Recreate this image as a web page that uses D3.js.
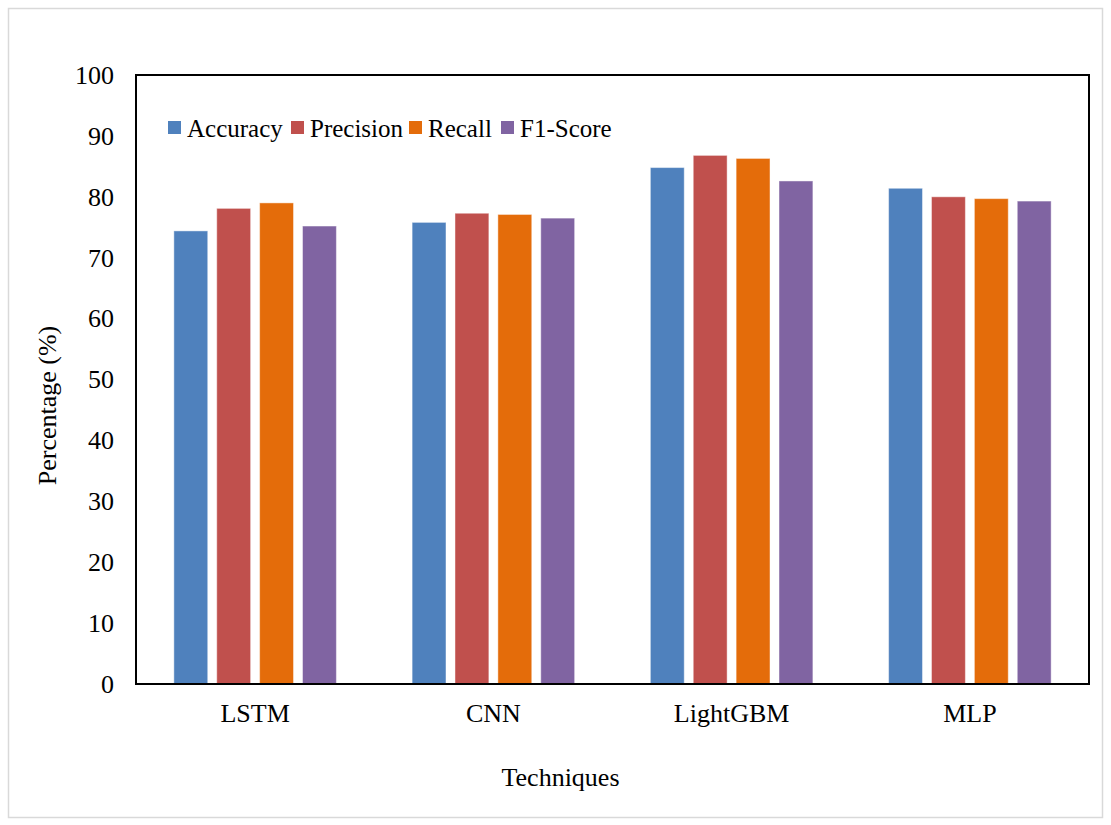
<!DOCTYPE html>
<html>
<head>
<meta charset="utf-8">
<script src="https://cdn.jsdelivr.net/npm/d3@7"></script>
<style>
  html, body { margin: 0; padding: 0; background: #fff; }
  svg { display: block; font-family: "Liberation Serif", "Times New Roman", serif; }
</style>
</head>
<body>
<svg id="chart" width="1111" height="825"></svg>
<script>
// Model comparison: accuracy, precision, recall and F1-score (%)
const techniques = ["LSTM", "CNN", "LightGBM", "MLP"];
const metrics = ["Accuracy", "Precision", "Recall", "F1-Score"];
const accuracy  = [74.4, 75.8, 84.8, 81.4];
const precision = [78.1, 77.3, 86.8, 80.0];
const recall    = [79.0, 77.1, 86.3, 79.7];
const f1Score   = [75.2, 76.5, 82.6, 79.3];
const yTicks = [0, 10, 20, 30, 40, 50, 60, 70, 80, 90, 100];
const colors = ["#4f81bd", "#c0504d", "#e46c0a", "#8064a2"];

const series = [accuracy, precision, recall, f1Score];

const svg = d3.select("#chart");
const W = 1111, H = 825;

// outer frame
svg.append("rect")
  .attr("x", 8.5).attr("y", 8.5)
  .attr("width", W - 17).attr("height", H - 16)
  .attr("fill", "#fff").attr("stroke", "#d9d9d9").attr("stroke-width", 1.5);

const plot = { left: 136, right: 1089, top: 75, bottom: 684 };

const x = d3.scaleBand()
  .domain(techniques)
  .range([plot.left, plot.right])
  .padding(0);

const inner = d3.scaleBand()
  .domain(metrics)
  .range([x.bandwidth() * 0.14, x.bandwidth() * 0.86])
  .paddingInner(0.21)
  .paddingOuter(0.105);

const y = d3.scaleLinear()
  .domain([0, 100])
  .range([plot.bottom, plot.top]);

// bars
const groups = svg.append("g").selectAll("g")
  .data(techniques)
  .join("g")
  .attr("transform", d => `translate(${x(d)},0)`);

groups.selectAll("rect")
  .data((d, i) => metrics.map((m, k) => ({ metric: m, value: series[k][i], color: colors[k] })))
  .join("rect")
  .attr("x", d => inner(d.metric))
  .attr("width", inner.bandwidth())
  .attr("y", d => y(d.value))
  .attr("height", d => y(0) - y(d.value))
  .attr("fill", d => d.color)
  .attr("stroke", "rgba(255,255,255,0.45)")
  .attr("stroke-width", 1);

// plot frame
svg.append("rect")
  .attr("x", plot.left).attr("y", plot.top)
  .attr("width", plot.right - plot.left).attr("height", plot.bottom - plot.top)
  .attr("fill", "none").attr("stroke", "#000").attr("stroke-width", 2);

// y axis labels
const yAxis = d3.axisLeft(y).tickValues(yTicks).tickSize(0).tickPadding(22);
svg.append("g")
  .attr("transform", `translate(${plot.left},0)`)
  .call(yAxis)
  .call(g => g.select(".domain").remove())
  .call(g => g.selectAll("text")
    .attr("font-family", "Liberation Serif, Times New Roman, serif")
    .attr("font-size", 26).attr("fill", "#000"));

// x axis labels
const xAxis = d3.axisBottom(x).tickSize(0).tickPadding(20);
svg.append("g")
  .attr("transform", `translate(0,${plot.bottom})`)
  .call(xAxis)
  .call(g => g.select(".domain").remove())
  .call(g => g.selectAll("text")
    .attr("font-family", "Liberation Serif, Times New Roman, serif")
    .attr("font-size", 26).attr("fill", "#000"));

// axis titles
svg.append("text")
  .attr("x", (plot.left + plot.right) / 2 - 52).attr("y", 786)
  .attr("text-anchor", "middle")
  .attr("font-size", 26).attr("fill", "#000")
  .text("Techniques");

svg.append("text")
  .attr("transform", `translate(56,${(plot.top + plot.bottom) / 2 + 26}) rotate(-90)`)
  .attr("text-anchor", "middle")
  .attr("font-size", 26).attr("fill", "#000")
  .text("Percentage (%)");

// legend
const legendX = [168, 291, 409, 501];
const legend = svg.append("g").selectAll("g")
  .data(metrics)
  .join("g")
  .attr("transform", (d, i) => `translate(${legendX[i]},121)`);
legend.append("rect")
  .attr("width", 13).attr("height", 13)
  .attr("fill", (d, i) => colors[i]);
legend.append("text")
  .attr("x", 19).attr("y", 15.5)
  .attr("font-size", 25).attr("fill", "#000")
  .text(d => d);
</script>
</body>
</html>
